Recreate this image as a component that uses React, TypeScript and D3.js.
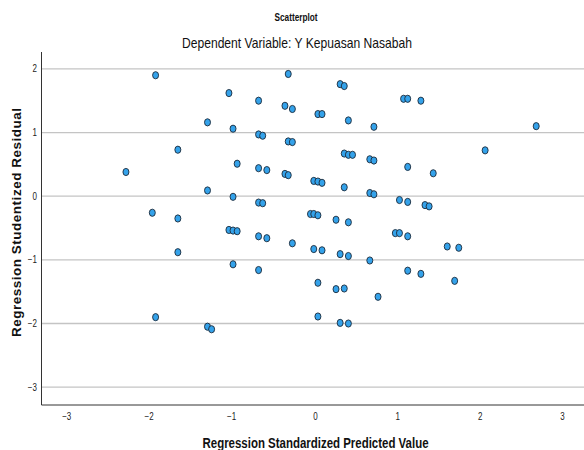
import React from "react";
import * as d3 from "d3";

const xValues: number[] = [
  -1.94, -0.33, -1.05, -0.69, -0.37, -0.28, -1.31, -1.0, -0.69, -0.64,
  -0.33, -0.28, -1.67, -0.95, -2.3, -0.69, -0.59, -0.37, -0.33, -1.31,
  -1.0, -0.69, -0.64, -1.98, -1.67, -1.05, -1.0, -0.95, -0.69, -0.59,
  -0.28, -1.67, -1.0, -0.69, -1.94, -1.31, -1.26, 0.3, 0.35, 1.07,
  1.12, 1.28, 0.03, 0.08, 0.4, 0.71, 0.35, 0.4, 0.45, 0.66,
  0.71, 1.12, 1.43, -0.02, 0.03, 0.08, 0.35, 0.66, 0.71, 1.02,
  1.12, 1.33, 1.38, -0.06, -0.02, 0.03, 0.25, 0.4, 0.97, 1.02,
  1.12, -0.02, 0.08, 0.3, 0.4, 0.66, 1.6, 1.74, 1.12, 1.28,
  1.69, 0.03, 0.25, 0.35, 0.76, 0.03, 0.3, 0.4, 2.06, 2.68,
];

const yValues: number[] = [
  1.9, 1.92, 1.62, 1.5, 1.42, 1.37, 1.16, 1.06, 0.97, 0.95,
  0.86, 0.85, 0.73, 0.51, 0.38, 0.44, 0.41, 0.35, 0.33, 0.09,
  -0.01, -0.1, -0.11, -0.26, -0.35, -0.53, -0.54, -0.55, -0.63, -0.66,
  -0.74, -0.88, -1.07, -1.16, -1.9, -2.05, -2.09, 1.76, 1.73, 1.53,
  1.53, 1.5, 1.29, 1.29, 1.19, 1.09, 0.67, 0.65, 0.65, 0.58,
  0.56, 0.46, 0.36, 0.24, 0.23, 0.21, 0.14, 0.05, 0.03, -0.06,
  -0.09, -0.14, -0.16, -0.28, -0.28, -0.3, -0.37, -0.41, -0.58, -0.58,
  -0.63, -0.83, -0.85, -0.91, -0.94, -1.01, -0.79, -0.81, -1.17, -1.22,
  -1.33, -1.36, -1.46, -1.45, -1.58, -1.89, -1.99, -2.0, 0.72, 1.1,
];

const xTicks: number[] = [-3, -2, -1, 0, 1, 2, 3];
const yTicks: number[] = [2, 1, 0, -1, -2, -3];

const chartTitle = "Scatterplot";
const chartSubtitle = "Dependent Variable: Y Kepuasan Nasabah";
const xLabel = "Regression Standardized Predicted Value";
const yLabel = "Regression Studentized Residual";

const W = 584;
const H = 450;
const left = 41.5;
const right = 584;
const top = 52;
const bottom = 405;

const FONT = "'Liberation Sans', Arial, sans-serif";

export default function App() {
  const x = d3.scaleLinear().domain([-3.325, 3.26]).range([left, right]);
  const y = d3.scaleLinear().domain([-3.28, 2.265]).range([bottom, top]);
  const fmt = d3.format("d");
  const pts = xValues.map((v, i) => ({ x: v, y: yValues[i] }));

  return (
    <svg
      width={W}
      height={H}
      style={{ position: "fixed", left: 0, top: 0, background: "#fff" }}
    >
      <rect x={0} y={0} width={W} height={H} fill="#fff" />
      <text x={296} y={21} textAnchor="middle" fontFamily={FONT} fontWeight="bold" fontSize={10}
        textLength={43} lengthAdjust="spacingAndGlyphs" fill="#111">
        {chartTitle}
      </text>
      <text x={297} y={48} textAnchor="middle" fontFamily={FONT} fontSize={14.5}
        textLength={230} lengthAdjust="spacingAndGlyphs" fill="#111">
        {chartSubtitle}
      </text>

      {yTicks.map((t) => (
        <g key={"gy" + t}>
          <line x1={left} x2={right} y1={y(t)} y2={y(t)} stroke="#c4c4c4" strokeWidth={1.3} />
          <text x={37} y={y(t) + 3.5} textAnchor="end" fontFamily={FONT} fontSize={10}
            transform={`translate(${37 * 0.2}, 0) scale(0.8, 1)`} fill="#222">
            {fmt(t)}
          </text>
        </g>
      ))}

      {xTicks.map((t) => {
        const cx = x(t) - (t < 0 ? 1.5 : 0);
        return (
          <text key={"tx" + t} x={cx} y={420} textAnchor="middle" fontFamily={FONT} fontSize={10}
            transform={`translate(${cx * 0.2}, 0) scale(0.8, 1)`} fill="#222">
            {fmt(t)}
          </text>
        );
      })}

      <line x1={left} x2={left} y1={top} y2={bottom} stroke="#333" strokeWidth={1} />
      <line x1={left} x2={right} y1={bottom} y2={bottom} stroke="#333" strokeWidth={1} />

      {pts.map((p, i) => (
        <ellipse
          key={i}
          cx={x(p.x)}
          cy={y(p.y)}
          rx={3}
          ry={3.6}
          fill="#34a2ea"
          stroke="#1c2a3a"
          strokeWidth={0.9}
        />
      ))}

      <text x={315.5} y={448} textAnchor="middle" fontFamily={FONT} fontWeight="bold" fontSize={14}
        textLength={226} lengthAdjust="spacingAndGlyphs" fill="#111">
        {xLabel}
      </text>
      <text
        transform={`translate(21, 222.5) rotate(-90)`}
        textAnchor="middle"
        fontFamily={FONT}
        fontWeight="bold"
        fontSize={13.5}
        textLength={229}
        lengthAdjust="spacing"
        fill="#111"
      >
        {yLabel}
      </text>
    </svg>
  );
}
